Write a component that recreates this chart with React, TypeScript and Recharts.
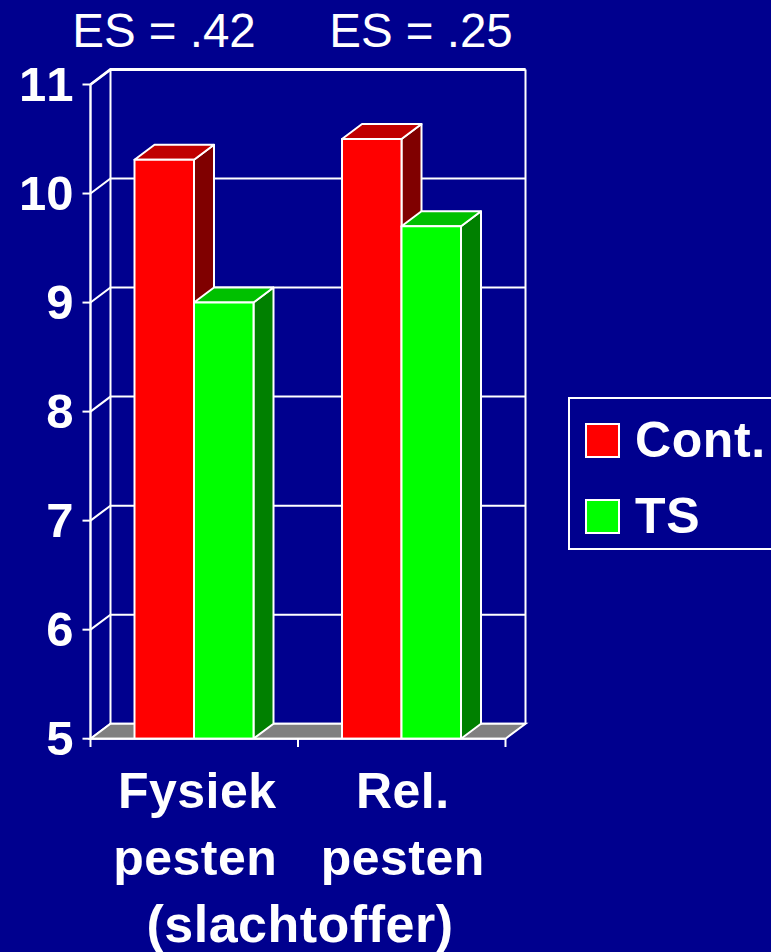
import React from "react";
import { BarChart, Bar, XAxis, YAxis, CartesianGrid, Legend, ReferenceArea } from "recharts";

const categoryLines = [["Fysiek", "pesten"], ["Rel.", "pesten"]];
const categories = ["Fysiek pesten", "Rel. pesten"];
const contValues = [10.31, 10.5];
const tsValues = [9.0, 9.7];
const yTicks = [5, 6, 7, 8, 9, 10, 11];
const effectLabels = ["ES = .42", "ES = .25"];
const axisSubtitle = "(slachtoffer)";

const data = categories.map((name, i) => ({ name, Cont: contValues[i], TS: tsValues[i] }));

const FONT = '"Liberation Sans", Arial, sans-serif';
const BG = "#00008e";
const DX = 20;
const DY = 15;
const LINE = "#ffffff";

const box3d = (front: string, top: string, side: string) => (p: any) => {
  const { x, y, width: w, height: h } = p;
  return (
    <g stroke={LINE} strokeWidth={2} strokeLinejoin="round">
      <polygon fill={side} points={`${x + w},${y} ${x + w + DX},${y - DY} ${x + w + DX},${y + h - DY} ${x + w},${y + h}`} />
      <polygon fill={top} points={`${x},${y} ${x + DX},${y - DY} ${x + w + DX},${y - DY} ${x + w},${y}`} />
      <rect x={x} y={y} width={w} height={h} fill={front} />
    </g>
  );
};

const gridLine = (p: any) => (
  <polyline
    key={p.key ?? p.index}
    fill="none"
    stroke={LINE}
    strokeWidth={2}
    points={`${p.x1},${p.y1} ${p.x1 + DX},${p.y1 - DY} ${p.x2 + DX},${p.y1 - DY}`}
  />
);

const walls = (p: any) => {
  const { x, y, width: w, height: h } = p;
  const b = y + h;
  return (
    <g stroke={LINE} strokeWidth={2} fill="none">
      <polygon fill="#808080" points={`${x},${b} ${x + DX},${b - DY} ${x + w + DX},${b - DY} ${x + w},${b}`} />
      <line x1={x + DX} y1={y - DY} x2={x + DX} y2={b - DY} />
      <line x1={x + w + DX} y1={y - DY} x2={x + w + DX} y2={b - DY} />
      <polyline strokeWidth={2.8} points={`${x},${y} ${x + DX},${y - DY} ${x + w + DX},${y - DY}`} />
    </g>
  );
};

const CategoryTick = (p: any) => {
  const half = p.payload?.offset ?? 103.75;
  const lines = categoryLines[p.index] ?? [];
  return (
    <g>
      <line x1={p.x - half} x2={p.x - half} y1={738.7} y2={747} stroke={LINE} strokeWidth={2} />
      {p.index === categoryLines.length - 1 && (
        <line x1={p.x + half} x2={p.x + half} y1={738.7} y2={747} stroke={LINE} strokeWidth={2} />
      )}
      {lines.map((t: string, i: number) => (
        <text key={i} x={p.x + 1 + (t === "Fysiek" ? 2 : 0)} y={p.y + 61.5 + i * 67} textAnchor="middle" fill="#fff" fontFamily={FONT} fontSize={50} fontWeight={700} letterSpacing={0.5}>
          {t}
        </text>
      ))}
    </g>
  );
};

const LegendBox = (p: any) => (
  <div style={{ width: 230, height: 153, boxSizing: "border-box", border: "2px solid #fff", background: BG, position: "relative" }}>
    {(p.payload ?? []).map((e: any, i: number) => (
      <div key={e.value} style={{ position: "absolute", left: 15, top: 23 + i * 76, height: 36, display: "flex", alignItems: "center" }}>
        <span style={{ width: 35, height: 35, boxSizing: "border-box", border: "2px solid #fff", background: e.color, display: "block" }} />
        <span style={{ marginLeft: 15, color: "#fff", font: `700 50px ${FONT}`, lineHeight: "36px", letterSpacing: 0.6 }}>{e.value}</span>
      </div>
    ))}
  </div>
);

export default function App() {
  return (
    <div style={{ position: "absolute", left: 0, top: 0, width: 771, height: 952, background: BG, overflow: "hidden" }}>
      <BarChart
        width={771}
        height={952}
        data={data}
        margin={{ top: 84.5, right: 265.5, bottom: 0, left: 0 }}
        barCategoryGap="21.2%"
        barGap={0}
        barSize={59.5}
      >
        <ReferenceArea y1={5} y2={11} shape={walls} ifOverflow="visible" />
        <CartesianGrid vertical={false} horizontal={gridLine} />
        <YAxis
          width={90.5}
          domain={[5, 11]}
          ticks={yTicks}
          interval={0}
          allowDataOverflow
          axisLine={{ stroke: LINE, strokeWidth: 2.4 }}
          tickLine={{ stroke: LINE, strokeWidth: 2 }}
          tickSize={8}
          tickMargin={9}
          tick={{ fill: "#fff", fontSize: 49, fontWeight: 700, fontFamily: FONT, dy: -1, style: { fontKerning: "none" } }}
        />
        <XAxis
          dataKey="name"
          height={213.3}
          interval={0}
          axisLine={{ stroke: LINE, strokeWidth: 2 }}
          tickLine={false}
          tick={CategoryTick}
          label={{ value: axisSubtitle, position: "insideBottom", offset: 10, dx: 2, fill: "#fff", fontSize: 52, fontWeight: 700, fontFamily: FONT, letterSpacing: 0.5 }}
        />
        <Bar dataKey="Cont" name="Cont." fill="#ff0000" isAnimationActive={false} shape={box3d("#ff0000", "#c00000", "#800000")} />
        <Bar dataKey="TS" name="TS" fill="#00ff00" isAnimationActive={false} shape={box3d("#00ff00", "#00c000", "#008000")} />
        <Legend
          layout="vertical"
          align="center"
          verticalAlign="middle"
          content={LegendBox}
          wrapperStyle={{ left: 568, top: 397, width: 230, height: 153 }}
        />
        {effectLabels.map((t, i) => (
          <text key={t} x={164 + i * 257} y={47} textAnchor="middle" fill="#fff" fontFamily={FONT} fontSize={47.5}>
            {t}
          </text>
        ))}
      </BarChart>
    </div>
  );
}
